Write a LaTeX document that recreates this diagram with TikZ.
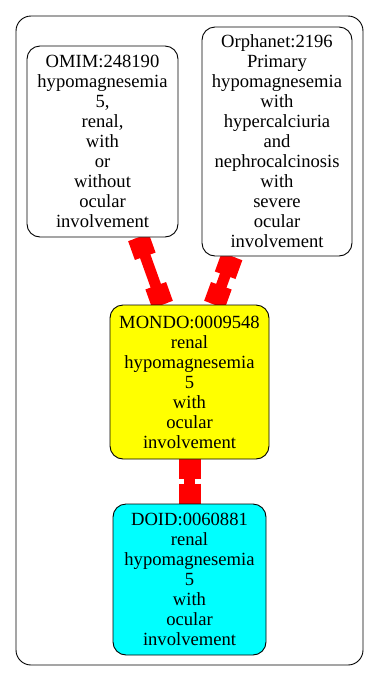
\documentclass[tikz,border=0pt]{standalone}
\usepackage{fontspec}
\setmainfont{Liberation Serif}
\usetikzlibrary{calc,backgrounds}
\definecolor{termyellow}{RGB}{255,255,0}
\definecolor{termcyan}{RGB}{0,255,255}
\definecolor{linkred}{RGB}{255,0,0}
\begin{document}
\begin{tikzpicture}[x=1pt,y=-1pt,
  term/.style={draw=black, line width=0.9pt, rounded corners=13pt, align=center,
    inner sep=0pt, fill=white, font=\fontsize{18.6}{20}\selectfont},
  shaft/.style={draw=linkred, line width=11pt},
  teeend/.style={draw=linkred, line width=22pt},
  frame/.style={draw=black, line width=0.9pt, rounded corners=15pt}]
\useasboundingbox (0,0) rectangle (380,681);

% ontology terms
\node[term, minimum width=151pt, minimum height=191pt] (omim) at (102.5,141.5)
  {OMIM:248190\\hypomagnesemia\\5,\\renal,\\with\\or\\without\\ocular\\involvement};
\node[term, minimum width=150pt, minimum height=229pt] (orpha) at (277,141.5)
  {Orphanet:2196\\Primary\\hypomagnesemia\\with\\hypercalciuria\\and\\nephrocalcinosis\\with\\severe\\ocular\\involvement};
\node[term, fill=termyellow, minimum width=159pt, minimum height=154pt] (mondo) at (189.5,382)
  {MONDO:0009548\\renal\\hypomagnesemia\\5\\with\\ocular\\involvement};
\node[term, fill=termcyan, minimum width=153pt, minimum height=151pt] (doid) at (189.5,579.5)
  {DOID:0060881\\renal\\hypomagnesemia\\5\\with\\ocular\\involvement};

% attachment points of the connectors
\coordinate (c1a) at ($(omim.south)+(36,0)$);
\coordinate (c1b) at ($(mondo.north)+(-27,0)$);
\coordinate (c2a) at ($(orpha.south)+(-45,0)$);
\coordinate (c2b) at ($(mondo.north)+(25,0)$);
\coordinate (c3a) at (mondo.south);
\coordinate (c3b) at (doid.north);

\begin{scope}[on background layer]
  \draw[frame] (16,16) rectangle (363,665);
  \foreach \s/\t in {c1a/c1b, c2a/c2b, c3a/c3b}{
    \draw[shaft] (\s) -- (\t);
    \draw[teeend] (\s) -- ($(\s)!20pt!(\t)$);
    \draw[teeend] ($(\t)!20pt!(\s)$) -- (\t);
  }
\end{scope}
\end{tikzpicture}
\end{document}
